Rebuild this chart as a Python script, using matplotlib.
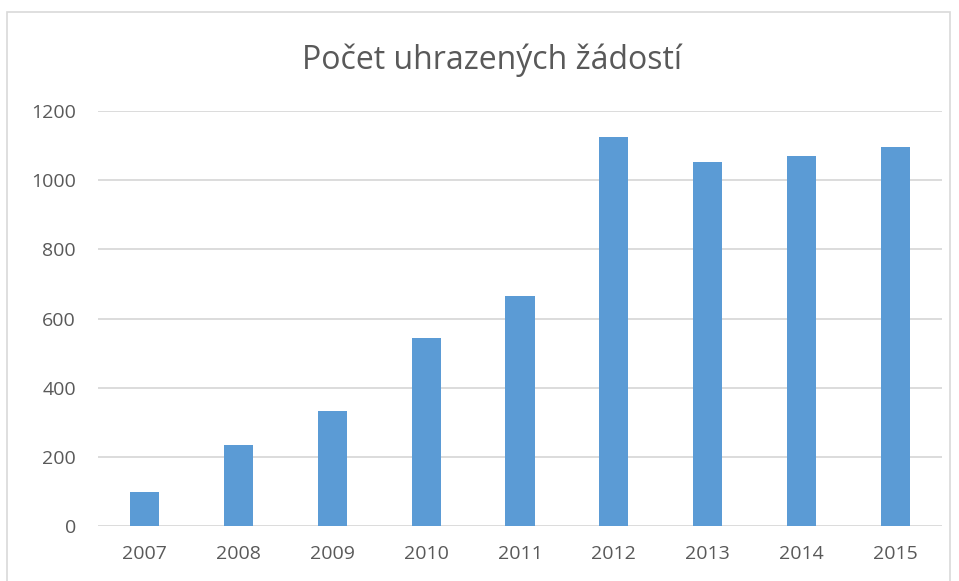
import matplotlib.pyplot as plt
from matplotlib.patches import Rectangle

# -------------------------------
# Data
# -------------------------------
years = ["2007", "2008", "2009", "2010", "2011", "2012", "2013", "2014", "2015"]
paid = [98, 234, 333, 544, 665, 1125, 1053, 1070, 1096]
y_ticks = [0, 200, 400, 600, 800, 1000, 1200]

plt.rcParams['font.family'] = ['Open Sans', 'DejaVu Sans']

fig = plt.figure(figsize=(9.59, 5.81), dpi=100)

# chart frame (light gray border, runs off the bottom)
fig.patches.append(Rectangle((7 / 959, -0.05), 943 / 959, 1 - 12 / 581 + 0.05,
                             transform=fig.transFigure, fill=False,
                             edgecolor="#d9d9d9", linewidth=1.2))

ax = fig.add_axes([98 / 959, 1 - 526 / 581, 844 / 959, 415 / 581])

x = range(len(years))
ax.bar(x, paid, width=0.31, color="#5b9bd5", zorder=3)

ax.set_xlim(-0.5, len(years) - 0.5)
ax.set_ylim(0, 1200)
ax.set_yticks(y_ticks)
ax.set_xticks(list(x))
ax.set_xticklabels(years)

ax.yaxis.grid(True, color="#d9d9d9", linewidth=1.3, zorder=0)
for s in ax.spines.values():
    s.set_visible(False)
ax.tick_params(length=0, labelsize=14, colors="#595959")
ax.tick_params(axis="y", pad=16)
ax.tick_params(axis="x", pad=14)

fig.text(492 / 959, 1 - 60 / 581, "Počet uhrazených žádostí", ha="center", va="center",
         fontsize=23, color="#595959")

fig.savefig("out.png", dpi=100)
